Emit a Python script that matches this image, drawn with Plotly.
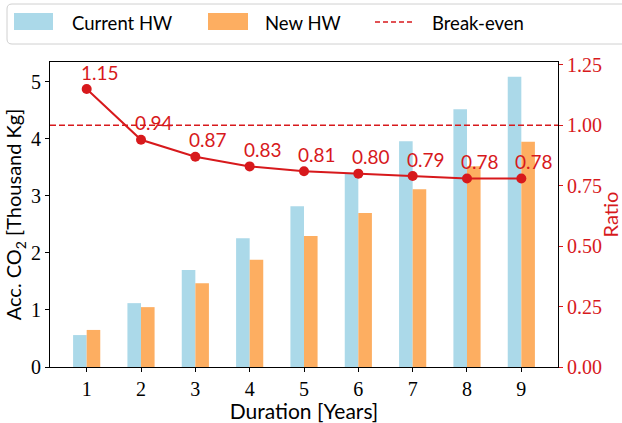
import plotly.graph_objects as go

years = [1, 2, 3, 4, 5, 6, 7, 8, 9]
current_hw = [0.56, 1.12, 1.70, 2.26, 2.82, 3.40, 3.96, 4.52, 5.09]
new_hw = [0.65, 1.05, 1.47, 1.88, 2.30, 2.70, 3.12, 3.52, 3.95]
ratio = [1.15, 0.94, 0.87, 0.83, 0.81, 0.80, 0.79, 0.78, 0.78]
break_even = 1.0

BLUE = "#abd9e9"
ORANGE = "#fdae61"
RED = "#d7191c"
SANS = "Lato, 'Noto Sans', sans-serif"
SERIF = "'Liberation Serif', 'DejaVu Serif', serif"

W, H = 622, 423
ML, MR, MT, MB = 50, 64, 62, 56
PW, PH = W - ML - MR, H - MT - MB


def px(x):
    return (x - ML) / PW


def py(y):
    return (H - MB - y) / PH


fig = go.Figure()
fig.add_trace(go.Bar(x=years, y=current_hw, width=0.25, offset=-0.25,
                     marker=dict(color=BLUE, line=dict(width=0)),
                     name="Current HW", showlegend=False))
fig.add_trace(go.Bar(x=years, y=new_hw, width=0.25, offset=0.0,
                     marker=dict(color=ORANGE, line=dict(width=0)),
                     name="New HW", showlegend=False))
fig.add_trace(go.Scatter(x=years, y=ratio, yaxis="y2", mode="lines+markers",
                         line=dict(color=RED, width=2),
                         marker=dict(color=RED, size=10),
                         showlegend=False))

shapes = [
    dict(type="line", xref="paper", yref="y2", x0=0, x1=1,
         y0=break_even, y1=break_even,
         line=dict(color=RED, width=1.6, dash="6px,3px")),
]

annotations = []
for xv, rv in zip(years, ratio):
    annotations.append(dict(x=xv, y=rv, xref="x", yref="y2",
                            text=f"{rv:.2f}", showarrow=False,
                            xshift=13, yshift=17,
                            font=dict(family=SANS, size=19, color=RED)))

# legend (manual, matplotlib-style)
lx0, lx1, ly0, ly1, r = 7, 640, 4, 44, 5
rx, ry = r / PW, r / PH
X0, X1, Y0, Y1 = px(lx0), px(lx1), py(ly1), py(ly0)
path = (f"M {X0+rx},{Y0} L {X1-rx},{Y0} Q {X1},{Y0} {X1},{Y0+ry} "
        f"L {X1},{Y1-ry} Q {X1},{Y1} {X1-rx},{Y1} L {X0+rx},{Y1} "
        f"Q {X0},{Y1} {X0},{Y1-ry} L {X0},{Y0+ry} Q {X0},{Y0} {X0+rx},{Y0} Z")
shapes.append(dict(type="path", xref="paper", yref="paper", path=path,
                   line=dict(color="#d0d0d0", width=1), fillcolor="white",
                   layer="above"))
shapes.append(dict(type="rect", xref="paper", yref="paper",
                   x0=px(14), x1=px(53), y0=py(30), y1=py(13),
                   fillcolor=BLUE, line=dict(width=0), layer="above"))
shapes.append(dict(type="rect", xref="paper", yref="paper",
                   x0=px(208), x1=px(248), y0=py(30), y1=py(13),
                   fillcolor=ORANGE, line=dict(width=0), layer="above"))
shapes.append(dict(type="line", xref="paper", yref="paper",
                   x0=px(375), x1=px(413), y0=py(22), y1=py(22),
                   line=dict(color=RED, width=1.6, dash="5px,3px"), layer="above"))
for txt, xl in [("Current HW", 70), ("New HW", 263), ("Break-even", 430)]:
    annotations.append(dict(x=px(xl), y=py(23), xref="paper", yref="paper",
                            text=txt, showarrow=False, xanchor="left",
                            yanchor="middle",
                            font=dict(family=SANS, size=18.5, color="black")))

fig.update_layout(
    width=W, height=H,
    margin=dict(l=ML, r=MR, t=MT, b=MB),
    paper_bgcolor="white", plot_bgcolor="white",
    barmode="overlay",
    showlegend=False,
    shapes=shapes,
    annotations=annotations,
    xaxis=dict(range=[0.325, 9.675], tickmode="array", tickvals=years,
               ticktext=[str(y) for y in years], automargin=False,
               showgrid=False, zeroline=False,
               showline=True, linecolor="black", linewidth=1.2, mirror=True,
               ticks="outside", ticklen=4, tickcolor="black",
               tickfont=dict(family=SERIF, size=20, color="black"),
               title=dict(text="Duration [Years]", standoff=2,
                          font=dict(family=SANS, size=21, color="black"))),
    yaxis=dict(range=[0, 5.35], tickmode="array", tickvals=[0, 1, 2, 3, 4, 5],
               automargin=False,
               showgrid=False, zeroline=False,
               showline=True, linecolor="black", linewidth=1.2, mirror=True,
               ticks="outside", ticklen=4, tickcolor="black",
               tickfont=dict(family=SERIF, size=20, color="black"),
               title=dict(text="Acc. CO<sub>2</sub> [Thousand Kg]", standoff=3,
                          font=dict(family=SANS, size=20, color="black"))),
    yaxis2=dict(range=[0, 1.262], overlaying="y", side="right",
                automargin=False,
                tickmode="array", tickvals=[0, 0.25, 0.5, 0.75, 1.0, 1.25],
                ticktext=["0.00", "0.25", "0.50", "0.75", "1.00", "1.25"],
                showgrid=False, zeroline=False,
                showline=True, linecolor="black", linewidth=1.2,
                ticks="outside", ticklen=4, tickcolor=RED,
                tickfont=dict(family=SERIF, size=20, color=RED),
                title=dict(text="Ratio", standoff=6,
                           font=dict(family=SANS, size=20, color=RED))),
)

fig.write_html("out.html")
